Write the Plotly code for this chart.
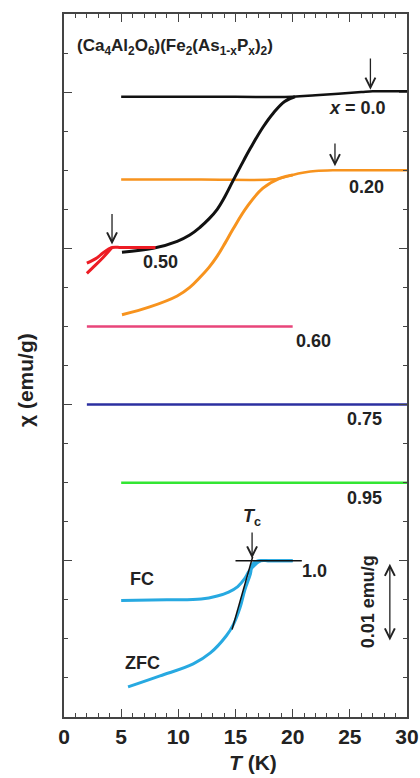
import plotly.graph_objects as go

# ---------------- data (T in K, chi in emu/g, offset curves) ----------------
T_x00_fc = [5, 10, 15, 20, 22, 24, 26, 27, 28, 30]
chi_x00_fc = [0.0794, 0.0794, 0.0794, 0.0794, 0.0796, 0.0798, 0.0800, 0.0801, 0.0801, 0.0801]
T_x00_zfc = [5.07, 7.8, 9.9, 11.0, 11.9, 12.7, 13.4, 14.1, 14.8, 15.7, 16.3, 17.4, 18.3, 19.3, 20.2]
chi_x00_zfc = [0.0595, 0.0600, 0.0609, 0.0617, 0.0627, 0.0638, 0.0650, 0.0667, 0.0687, 0.0712, 0.0728, 0.0755, 0.0773, 0.0788, 0.0794]

T_x20_fc = [5, 12, 18, 19, 20, 21, 22, 23.5, 25, 30]
chi_x20_fc = [0.0688, 0.0688, 0.0688, 0.0690, 0.0694, 0.0697, 0.0699, 0.0700, 0.0700, 0.0700]
T_x20_zfc = [5.07, 7.5, 9.9, 11.0, 11.9, 12.7, 13.4, 14.1, 14.8, 16.0, 17.4, 18.9, 20.0]
chi_x20_zfc = [0.0515, 0.0525, 0.0539, 0.0550, 0.0563, 0.0576, 0.0590, 0.0607, 0.0625, 0.0653, 0.0677, 0.0690, 0.0694]

T_x50_a = [2.0, 2.9, 3.4, 4.2, 5.0, 6.5, 8.0]
chi_x50_a = [0.0581, 0.0588, 0.0594, 0.0601, 0.0601, 0.0601, 0.0601]
T_x50_b = [2.0, 2.5, 3.4, 4.2]
chi_x50_b = [0.0568, 0.0575, 0.0588, 0.0601]

T_x60 = [2, 20]
chi_x60 = [0.0500, 0.0500]
T_x75 = [2, 30]
chi_x75 = [0.0400, 0.0400]
T_x95 = [5, 30]
chi_x95 = [0.0300, 0.0300]

T_x100_fc = [5, 9, 12, 13.4, 14.4, 15.2, 15.8, 16.2, 16.8, 17.2, 18, 20]
chi_x100_fc = [0.0149, 0.0150, 0.0151, 0.0155, 0.0160, 0.0167, 0.0177, 0.0187, 0.0196, 0.0200, 0.0200, 0.0200]
T_x100_zfc = [5.6, 8.4, 11.3, 12.8, 14.2, 14.8, 15.4, 15.8, 16.3, 16.5, 17.0, 18, 20]
chi_x100_zfc = [0.00385, 0.00526, 0.0068, 0.0082, 0.0104, 0.0118, 0.0140, 0.0162, 0.0183, 0.0196, 0.0200, 0.0200, 0.0200]

T_tangent = [14.7, 16.5]
chi_tangent = [0.0112, 0.0205]
T_baseline = [15.0, 20.8]
chi_baseline = [0.0200, 0.0200]

# arrows: (T, chi_tail, chi_tip)
arrows = [(26.8, 0.0845, 0.0803), (23.7, 0.0736, 0.0705), (4.2, 0.0646, 0.0605), (16.45, 0.0238, 0.0203)]
scale_T = 28.5
scale_chi = (0.0198, 0.0098)

labels = [
    ("<b><i>x</i> = 0.0</b>", 25.7, 0.0780),
    ("<b>0.20</b>", 26.5, 0.0679),
    ("<b>0.50</b>", 8.4, 0.0582),
    ("<b>0.60</b>", 21.8, 0.0482),
    ("<b>0.75</b>", 26.3, 0.0382),
    ("<b>0.95</b>", 26.3, 0.0281),
    ("<b>1.0</b>", 21.9, 0.0187),
    ("<b>FC</b>", 6.8, 0.0177),
    ("<b>ZFC</b>", 6.9, 0.0069),
    ("<b><i>T</i><sub>c</sub></b>", 16.4, 0.0256),
]

BLACK = "#111111"
ORANGE = "#F7931E"
RED = "#ED1C24"
PINK = "#E8457A"
BLUE = "#2B2FA0"
GREEN = "#33E633"
CYAN = "#27A9E1"

fig = go.Figure()

def add(x, y, color, width=3, shape="spline"):
    fig.add_trace(go.Scatter(x=x, y=y, mode="lines",
                             line=dict(color=color, width=width, shape=shape, smoothing=1.1),
                             showlegend=False, hoverinfo="skip"))

add(T_x20_fc, chi_x20_fc, ORANGE, 2.5)
add(T_x20_zfc, chi_x20_zfc, ORANGE, 3)
add(T_x00_fc, chi_x00_fc, BLACK, 2.5)
add(T_x00_zfc, chi_x00_zfc, BLACK, 3)
add(T_x50_a, chi_x50_a, RED, 3)
add(T_x50_b, chi_x50_b, RED, 3)
add(T_x60, chi_x60, PINK, 2.5, "linear")
add(T_x75, chi_x75, BLUE, 2.5, "linear")
add(T_x95, chi_x95, GREEN, 2.5, "linear")
add(T_x100_fc, chi_x100_fc, CYAN, 3)
add(T_x100_zfc, chi_x100_zfc, CYAN, 3)
add(T_tangent, chi_tangent, BLACK, 1.5, "linear")
add(T_baseline, chi_baseline, BLACK, 1.5, "linear")

FONT = "Liberation Sans"
ann = []
for (t, y0, y1) in arrows:
    ann.append(dict(x=t, y=y1, ax=t, ay=y0, xref="x", yref="y", axref="x", ayref="y",
                    showarrow=True, arrowhead=5, arrowsize=1.5, arrowwidth=1.3,
                    arrowcolor="#222222", text=""))
ann.append(dict(x=scale_T, y=scale_chi[1], ax=scale_T, ay=scale_chi[0], xref="x", yref="y",
                axref="x", ayref="y", showarrow=True, arrowhead=5, startarrowhead=5,
                arrowside="end+start", arrowsize=1.5, startarrowsize=1.5, arrowwidth=1.3,
                arrowcolor="#222222", text=""))
for (txt, t, y) in labels:
    ann.append(dict(x=t, y=y, xref="x", yref="y", text=txt, showarrow=False,
                    xanchor="center", yanchor="middle",
                    font=dict(family=FONT, size=18, color="#222222")))
ann.append(dict(x=0.96, y=0.0858, xref="x", yref="y", xanchor="left", yanchor="middle",
                text="<b>(Ca<sub>4</sub>Al<sub>2</sub>O<sub>6</sub>)(Fe<sub>2</sub>(As<sub>1-x</sub>P<sub>x</sub>)<sub>2</sub>)</b>",
                showarrow=False, font=dict(family=FONT, size=17, color="#222222")))
ann.append(dict(x=26.6, y=0.0147, xref="x", yref="y", text="<b>0.01 emu/g</b>", textangle=-90,
                showarrow=False, xanchor="center", yanchor="middle",
                font=dict(family=FONT, size=18, color="#222222")))
ann.append(dict(x=(25 - 64) / 343, y=(717 - 380) / 703, xref="paper", yref="paper",
                text="<b>χ (emu/g)</b>", textangle=-90, showarrow=False,
                xanchor="center", yanchor="middle",
                font=dict(family=FONT, size=21, color="#222222")))
ann.append(dict(x=(253 - 64) / 343, y=(717 - 762) / 703, xref="paper", yref="paper",
                text="<b><i>T</i> (K)</b>", showarrow=False, xanchor="center", yanchor="middle",
                font=dict(family=FONT, size=21, color="#222222")))

axis_common = dict(showline=True, linecolor="#444444", linewidth=1.5, mirror="allticks",
                   ticks="inside", tickcolor="#444444", showgrid=False, zeroline=False,
                   automargin=False)

fig.update_layout(
    width=420, height=778,
    margin=dict(l=64, r=13, t=14, b=61, autoexpand=False),
    paper_bgcolor="white", plot_bgcolor="white",
    annotations=ann,
    xaxis=dict(range=[0, 30], dtick=5, tick0=0, ticklen=8, tickwidth=1.3,
               tickfont=dict(family=FONT, size=21, color="#222222", weight="bold"),
               minor=dict(dtick=1, ticks="inside", ticklen=4, tickcolor="#444444"),
               **axis_common),
    yaxis=dict(range=[0, 0.09], dtick=0.02, tick0=0, ticklen=8, tickwidth=1.3,
               showticklabels=False,
               minor=dict(dtick=0.005, ticks="inside", ticklen=4, tickcolor="#444444"),
               **axis_common),
)

fig.write_html("out.html", config={"displayModeBar": False},
               post_script="document.body.style.margin='0';document.body.style.overflow='hidden';")
